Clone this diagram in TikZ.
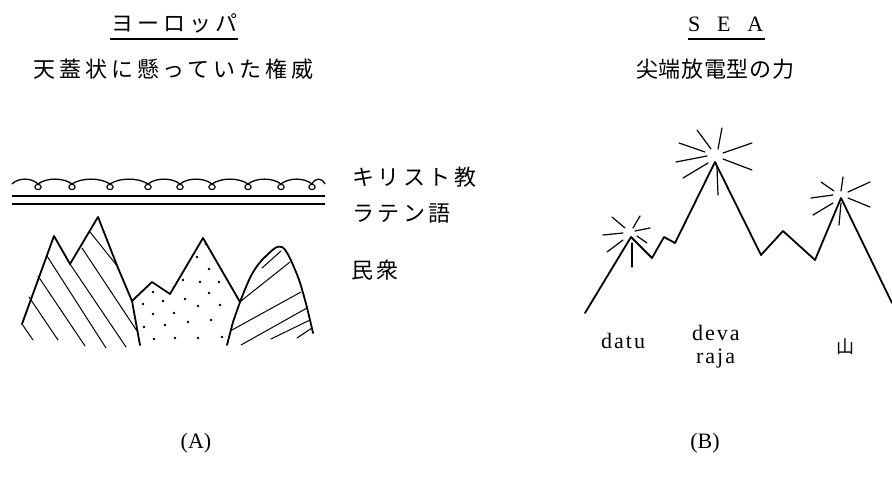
\documentclass[tikz,border=0pt]{standalone}
\usepackage{fontspec}
\newfontfamily\jpfont{Noto Sans CJK JP}
\newfontfamily\latfont{Liberation Serif}
\begin{document}
\begin{tikzpicture}[x=1pt,y=-1pt,
  ridge/.style={line width=1.8pt, line join=round, line cap=round},
  hatch/.style={line width=1pt, line cap=round},
  ray/.style={line width=1.2pt, line cap=round},
  rule/.style={line width=1.3pt},
  jtxt/.style={font=\fontsize{22}{26}\jpfont\addfontfeature{LetterSpace=#1}, inner sep=0pt, anchor=west},
  jtxt/.default=16,
  ltxt/.style={font=\fontsize{22}{26}\latfont\addfontfeature{LetterSpace=#1}, inner sep=0pt, anchor=west},
  ltxt/.default=9]
\useasboundingbox (0,0) rectangle (892,487);

% ---------- headings ----------
\node[jtxt=18] (euTitle) at (111,23) {ヨーロッパ};
\coordinate (euRuleL) at (110,39);
\coordinate (euRuleR) at (238,39);
\draw[rule] (euRuleL) -- (euRuleR);
\node[jtxt=18] (euSub) at (33,69) {天蓋状に懸っていた権威};

\node[ltxt=76] (seaTitle) at (688,24) {SEA};
\coordinate (seaRuleL) at (688,39);
\coordinate (seaRuleR) at (765,39);
\draw[rule] (seaRuleL) -- (seaRuleR);
\node[jtxt=3] (seaSub) at (636,69) {尖端放電型の力};

% ---------- (A): canopy ----------
\foreach \a/\b in {12/38,38/72,72/110,110/148,148/180,180/212,212/248,248/281,281/312,312/325}{
  \draw[line width=1.3pt] (\a,184) .. controls ({\a+(\b-\a)/4},177.5) and ({\b-(\b-\a)/4},177.5) .. (\b,184);
}
\foreach \c in {38,72,110,148,180,212,248,281,312}{
  \draw[line width=1.1pt] (\c,187) ellipse [x radius=3.2, y radius=2.6];
}
\coordinate (latinL1) at (12,196);
\coordinate (latinR1) at (325,196);
\coordinate (latinL2) at (12,204);
\coordinate (latinR2) at (325,204);
\draw[rule] (latinL1) -- (latinR1);
\draw[rule] (latinL2) -- (latinR2);

\node[jtxt] (christ) at (352,177) {キリスト教};
\node[jtxt] (latin) at (352,214) {ラテン語};
\node[jtxt] (people) at (351,270) {民衆};

% left hatched mountain
\draw[ridge] (22,324) -- (54,236) -- (70,264) -- (98,217) -- (118,268) -- (132,301) -- (140,345);
\draw[hatch] (22,324) -- (33,340);
\draw[hatch] (29,297) -- (58,340);
\draw[hatch] (38,276) -- (85,346);
\draw[hatch] (47,256) -- (106,348);
\draw[hatch] (70,264) -- (126,347);
\draw[hatch] (82,248) -- (137,331);
\draw[hatch] (90,232) -- (118,267);

% dotted middle mountain
\draw[ridge] (132,301) -- (152,282) -- (170,294) -- (203,238) -- (240,302);
\foreach \p in {(153,292),(143,304),(163,301),(185,299),(209,269),(200,282),(219,282),(209,293),
                (198,306),(220,305),(153,314),(174,313),(144,327),(165,325),(188,322),(211,320),
                (154,339),(175,338),(198,338),(222,337),(206,244),(197,257),(183,280)}{
  \fill \p circle (1.4);
}

% right hatched mountain
\draw[ridge] (227,345) -- (233,322) -- (240,302);
\draw[ridge] plot[smooth, tension=0.6] coordinates {(240,302) (252,274) (266,256) (282,247) (296,272) (305,300) (313,333)};
\draw[hatch] (262,268) -- (281,251);
\draw[hatch] (241,301) -- (290,262);
\draw[hatch] (232,330) -- (301,292);
\draw[hatch] (241,345) -- (307,308);
\draw[hatch] (271,339) -- (310,320);
\draw[hatch] (297,338) -- (312,328);

% ---------- (B): ridge with charged peaks ----------
\coordinate (foot) at (585,313);
\coordinate (datuPeak) at (631,237);
\coordinate (devaPeak) at (715,162);
\coordinate (hillPeak) at (841,198);
\coordinate (edge) at (892,303);
\draw[ridge] (foot) -- (datuPeak) -- (652,258) -- (664,237) -- (675,243) -- (devaPeak)
  -- (761,255) -- (783,231) -- (815,260) -- (hillPeak) -- (edge);

% sparks round the highest peak
\draw[ray] (697,130) -- (711,149);
\draw[ray] (722,128) -- (718,149);
\draw[ray] (679,143) -- (705,152);
\draw[ray] (676,162) -- (707,156);
\draw[ray] (683,178) -- (708,163);
\draw[ray] (723,153) -- (752,143);
\draw[ray] (723,159) -- (752,170);
\draw[ray] (717,167) -- (718,195);

% sparks round the left peak
\draw[ray] (612,217) -- (625,228);
\draw[ray] (640,216) -- (633,228);
\draw[ray] (603,235) -- (623,233);
\draw[ray] (635,231) -- (650,228);
\draw[ray] (607,252) -- (623,240);
\draw[ray] (637,236) -- (647,243);
\draw[ray] (632,243) -- (632,267);

% sparks round the right peak
\draw[ray] (821,182) -- (834,191);
\draw[ray] (843,177) -- (841,191);
\draw[ray] (811,198) -- (833,195);
\draw[ray] (848,192) -- (870,182);
\draw[ray] (813,215) -- (833,203);
\draw[ray] (848,198) -- (870,207);
\draw[ray] (841,203) -- (839,225);

\node[ltxt] (datu) at (601,341) {datu};
\node[ltxt] (deva) at (692,333) {deva};
\node[ltxt] (raja) at (696,359) {raja};
\node[font=\fontsize{18}{22}\jpfont, inner sep=0pt] (yama) at (845,347) {山};

% ---------- captions ----------
\node[font=\fontsize{22}{26}\latfont, inner sep=0pt] (capA) at (196,443) {(A)};
\node[font=\fontsize{22}{26}\latfont, inner sep=0pt] (capB) at (705,443) {(B)};
\end{tikzpicture}
\end{document}
